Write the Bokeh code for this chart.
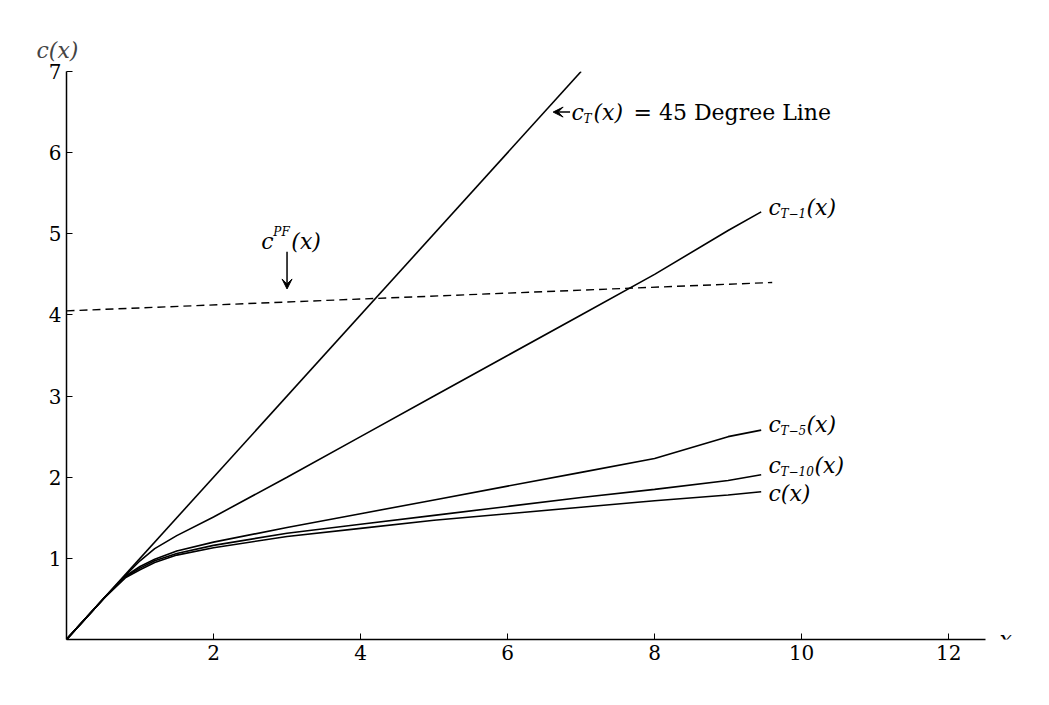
from bokeh.plotting import figure
from bokeh.models import Label, Arrow, VeeHead, FixedTicker
from bokeh.embed import file_html
from bokeh.resources import INLINE

xs = [0, 0.5, 0.8, 1, 1.2, 1.5, 2, 3, 4, 5, 6, 7, 8, 9, 9.45]
c_inf = [0, 0.5, 0.76, 0.86, 0.95, 1.04, 1.13, 1.27, 1.37, 1.47, 1.55, 1.63, 1.71, 1.78, 1.82]
c_t10 = [0, 0.5, 0.77, 0.88, 0.97, 1.06, 1.16, 1.31, 1.42, 1.53, 1.64, 1.75, 1.85, 1.96, 2.03]
c_t5 = [0, 0.5, 0.78, 0.9, 0.99, 1.09, 1.2, 1.38, 1.55, 1.72, 1.89, 2.06, 2.23, 2.50, 2.58]
c_t1 = [0, 0.5, 0.79, 0.97, 1.12, 1.28, 1.51, 2.0, 2.5, 3.0, 3.5, 4.0, 4.5, 5.04, 5.27]
c_t = [0, 7]
pf_x = [0, 9.6]
pf_y = [4.05, 4.4]

FONT = "DejaVu Serif"

p = figure(width=1033, height=689, x_range=(0, 13.1), y_range=(0, 7),
           output_backend="svg", toolbar_location=None, tools="",
           min_border_left=66, min_border_right=4, min_border_top=71, min_border_bottom=50,
           title="c(x)")
p.title.text_font = FONT
p.title.text_font_style = "italic"
p.title.text_font_size = "22px"
p.title.align = "left"
p.title.offset = -30
p.title.standoff = 18
p.outline_line_color = None
p.grid.visible = False

for ys in (c_inf, c_t10, c_t5, c_t1):
    p.line(xs, ys, line_color="black", line_width=1.6)
p.line(c_t, c_t, line_color="black", line_width=1.6)
p.line(pf_x, pf_y, line_color="black", line_width=1.4, line_dash="8 5")

p.xaxis.ticker = FixedTicker(ticks=[2, 4, 6, 8, 10, 12])
p.xaxis.bounds = (0, 12.5)
p.yaxis.ticker = FixedTicker(ticks=[1, 2, 3, 4, 5, 6, 7])
for ax in (p.xaxis, p.yaxis):
    ax.axis_line_color = "black"
    ax.axis_line_width = 1.5
    ax.major_tick_line_color = "black"
    ax.major_tick_in = 6
    ax.major_tick_out = 0
    ax.minor_tick_line_color = None
    ax.major_label_text_font = FONT
    ax.major_label_text_font_size = "20px"
    ax.major_label_text_color = "black"


def lab(x, y, main, sub="", tail="", sup=False, size=22):
    p.add_layout(Label(x=x, y=y, text=main, text_font=FONT, text_font_style="italic",
                       text_font_size=f"{size}px", text_baseline="middle", text_color="black"))
    off = 12
    if sub:
        p.add_layout(Label(x=x, y=y, x_offset=off, y_offset=(10 if sup else -7), text=sub,
                           text_font=FONT, text_font_style="italic", text_font_size="12px",
                           text_baseline="middle", text_color="black"))
        off += 8 * len(sub) + 2
    if tail:
        p.add_layout(Label(x=x, y=y, x_offset=off, text=tail, text_font=FONT,
                           text_font_style="italic", text_font_size=f"{size}px",
                           text_baseline="middle", text_color="black"))


lab(9.55, 5.33, "c", "T−1", "(x)")
lab(9.55, 2.65, "c", "T−5", "(x)")
lab(9.55, 2.15, "c", "T−10", "(x)")
lab(9.55, 1.8, "c(x)")
lab(6.87, 6.5, "c", "T", "(x)")
p.add_layout(Label(x=6.87, y=6.5, x_offset=62, text="= 45 Degree Line", text_font=FONT,
                   text_font_size="22px", text_baseline="middle", text_color="black"))
lab(2.65, 4.9, "c", "PF", "(x)", sup=True)

p.add_layout(Arrow(x_start=6.85, y_start=6.5, x_end=6.62, y_end=6.5, line_width=1.5,
                   end=VeeHead(size=10, fill_color="black", line_color="black")))
p.add_layout(Arrow(x_start=3.0, y_start=4.78, x_end=3.0, y_end=4.32, line_width=1.5,
                   end=VeeHead(size=10, fill_color="black", line_color="black")))

p.add_layout(Label(x=12.5, y=0, x_offset=14, y_offset=0, text="x", text_font=FONT,
                   text_font_style="italic", text_font_size="22px", text_baseline="middle",
                   text_color="black"))

open("out.html", "w").write(file_html(p, INLINE))
